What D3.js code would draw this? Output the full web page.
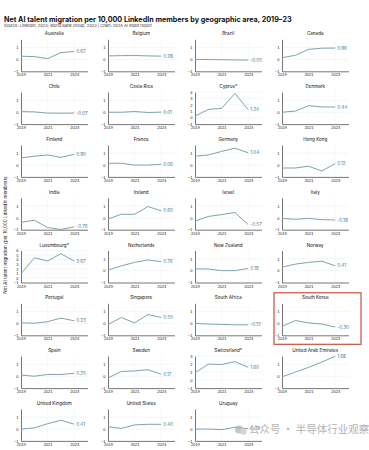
<!DOCTYPE html>
<html>
<head>
<meta charset="utf-8">
<script src="https://cdn.jsdelivr.net/npm/d3@7"></script>
<style>
  html, body { margin: 0; padding: 0; background: #fff; }
  svg { display: block; font-family: Inter, "Noto Sans", sans-serif; }
</style>
</head>
<body>
<div id="chart"></div>
<script>
// data
const years = [2019, 2020, 2021, 2022, 2023]
const yearTicks = [2019, 2021, 2023]
const countries = [
  'Australia', 'Belgium', 'Brazil', 'Canada',
  'Chile', 'Costa Rica', 'Cyprus*', 'Denmark',
  'Finland', 'France', 'Germany', 'Hong Kong',
  'India', 'Ireland', 'Israel', 'Italy',
  'Luxembourg*', 'Netherlands', 'New Zealand', 'Norway',
  'Portugal', 'Singapore', 'South Africa', 'South Korea',
  'Spain', 'Sweden', 'Switzerland*', 'United Arab Emirates',
  'United Kingdom', 'United States', 'Uruguay'
]
const values = [
  [0.27, 0.24, 0.07, 0.58, 0.67], [0.3, 0.32, 0.33, 0.3, 0.28], [0.0, -0.01, -0.02, -0.04, -0.05], [0.15, 0.35, 0.85, 0.95, 0.96],
  [0.05, 0.03, -0.07, -0.08, -0.07], [0.0, 0.0, 0.06, -0.02, 0.01], [0.25, 1.3, 1.45, 3.8, 1.24], [0.0, 0.1, 0.55, 0.45, 0.44],
  [0.6, 0.75, 0.85, 0.65, 0.9], [0.15, 0.15, 0.0, 0.0, 0.06], [0.75, 0.85, 1.15, 1.42, 1.04], [-0.25, -0.25, -0.1, -0.5, 0.12],
  [-0.38, -0.2, -0.82, -0.98, -0.76], [-0.1, 0.3, 0.3, 0.95, 0.6], [-0.28, 0.12, 0.27, 0.45, -0.57], [-0.05, -0.12, -0.05, -0.15, -0.18],
  [0.9, 4.4, 3.7, 5.3, 3.67], [0.05, 0.4, 0.7, 0.9, 0.76], [0.15, 0.14, 0.0, 0.0, 0.19], [0.3, 0.55, 0.7, 0.8, 0.41],
  [0.05, 0.02, 0.15, 0.45, 0.23], [-0.1, 0.5, 0.05, 0.75, 0.5], [0.0, -0.05, -0.08, -0.12, -0.12], [-0.25, 0.25, 0.05, -0.05, -0.3],
  [0.1, 0.0, 0.15, 0.15, 0.25], [-0.15, 0.4, 0.45, 0.55, 0.17], [0.9, 2.0, 1.95, 2.3, 1.6], [-0.05, 0.35, 0.75, 1.2, 1.68],
  [0.0, 0.1, 0.45, 0.75, 0.41], [0.2, 0.05, 0.35, 0.4, 0.4], [0.0, 0.0, -0.05, 0.15, 0.03]
]
const endLabels = [
  '0.67', '0.28', '-0.05', '0.96', '-0.07', '0.01', '1.24', '0.44',
  '0.90', '0.06', '1.04', '0.12', '-0.76', '0.60', '-0.57', '-0.18',
  '3.67', '0.76', '0.19', '0.41', '0.23', '0.50', '-0.12', '-0.30',
  '0.25', '0.17', '1.60', '1.68', '0.41', '0.40', '0.03'
]
// upper end of the y domain per country (default 1.7)
const yTopSpecial = { 'Cyprus*': 4, 'Luxembourg*': 6, 'Switzerland*': 3 }
const highlighted = 'South Korea'

const W = 369, H = 450
const svg = d3.select('#chart').append('svg').attr('width', W).attr('height', H)

svg.append('text').attr('x', 4).attr('y', 21.5)
  .attr('font-size', 7.2).attr('font-weight', 700).attr('fill', '#111')
  .text('Net AI talent migration per 10,000 LinkedIn members by geographic area, 2019–23')
svg.append('text').attr('x', 4).attr('y', 27)
  .attr('font-size', 4).attr('fill', '#333')
  .text('Source: LinkedIn, 2023; World Bank Group, 2023 | Chart: 2024 AI Index report')

svg.append('text')
  .attr('transform', 'translate(6.5,235) rotate(-90)')
  .attr('text-anchor', 'middle').attr('font-size', 4.6).attr('fill', '#222')
  .text('Net AI talent migration (per 10,000 LinkedIn members)')

const colStep = 87, rowStep = 52.8
const plotW = 66.5, plotH = 32
const lineColor = '#7fa2ad', labelColor = '#3f7e9c'

countries.forEach((name, i) => {
  const col = i % 4, row = Math.floor(i / 4)
  const g = svg.append('g').attr('transform', `translate(${21 + col * colStep},${39.3 + row * rowStep})`)
  const top = yTopSpecial[name] || 1.7
  const x = d3.scaleLinear().domain([2019, 2024]).range([0, plotW])
  const y = d3.scaleLinear().domain([-1, top]).range([plotH, 0])
  const yTicks = d3.range(-1, Math.floor(top) + 1)

  // faint grid
  g.append('g').selectAll('line').data(yTicks.slice(1)).join('line')
    .attr('x1', 0).attr('x2', plotW).attr('y1', d => y(d)).attr('y2', d => y(d))
    .attr('stroke', '#eef0f1').attr('stroke-width', 0.6)
  g.append('g').selectAll('line').data(yearTicks.slice(1)).join('line')
    .attr('x1', d => x(d)).attr('x2', d => x(d)).attr('y1', 0).attr('y2', plotH)
    .attr('stroke', '#f2f3f4').attr('stroke-width', 0.6)

  const ya = g.append('g')
    .call(d3.axisLeft(y).tickValues(yTicks).tickFormat(d3.format('d')).tickSize(0).tickPadding(2.5))
  const xa = g.append('g').attr('transform', `translate(0,${plotH})`)
    .call(d3.axisBottom(x).tickValues(yearTicks).tickFormat(d3.format('d')).tickSize(0).tickPadding(2.2))
  ;[ya, xa].forEach(a => {
    a.select('.domain').attr('stroke', '#666').attr('stroke-width', 0.9)
    a.selectAll('text').attr('font-size', 4).attr('fill', '#222').attr('font-family', null)
  })

  g.append('path').datum(values[i])
    .attr('fill', 'none').attr('stroke', lineColor).attr('stroke-width', 1)
    .attr('d', d3.line().x((d, j) => x(years[j])).y(d => y(d)))

  g.append('text')
    .attr('x', x(2023) + 2).attr('y', y(values[i][4]))
    .attr('dy', '0.35em').attr('font-size', 4.6).attr('fill', labelColor)
    .text(endLabels[i])

  g.append('text')
    .attr('x', plotW / 2).attr('y', -4).attr('text-anchor', 'middle')
    .attr('font-size', 4.6).attr('fill', '#111').text(name)

  if (name === highlighted) {
    g.append('rect')
      .attr('x', -8).attr('y', -10.5).attr('width', 87).attr('height', 51.5)
      .attr('fill', 'none').attr('stroke', '#c8503c').attr('stroke-width', 1.2)
  }
})

// watermark
const wm = svg.append('g').attr('opacity', 0.75)
wm.append('circle').attr('cx', 239).attr('cy', 429.5).attr('r', 4).attr('fill', '#b5b5b5')
wm.append('circle').attr('cx', 243.5).attr('cy', 431.5).attr('r', 3.2).attr('fill', '#c8c8c8')
wm.append('text').attr('x', 249).attr('y', 433)
  .attr('font-family', '"Noto Sans CJK SC", sans-serif').attr('font-size', 10.5).attr('fill', '#9a9a9a')
  .text('公众号 · 半导体行业观察')
</script>
</body>
</html>
